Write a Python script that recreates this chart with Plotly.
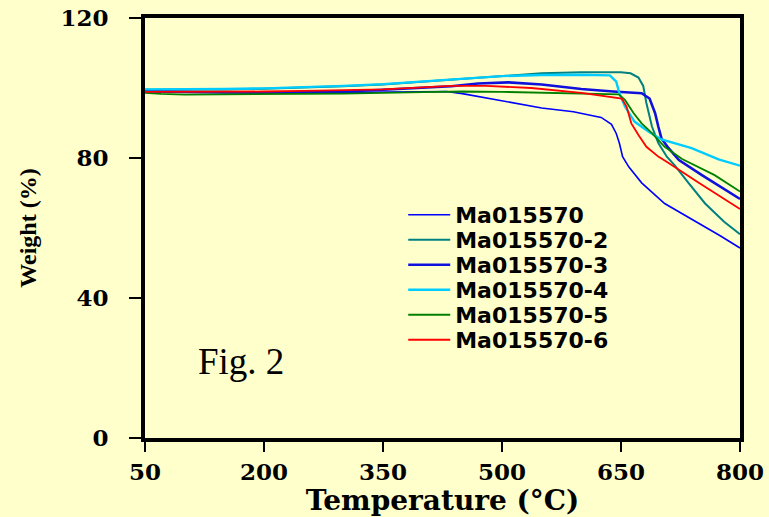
import plotly.graph_objects as go

# ---- data ----
t1 = [50, 100, 150, 200, 250, 300, 350, 400, 430, 450, 480, 510, 550, 590, 625, 638, 644, 648, 652, 660, 676, 705, 748, 775, 800]
w1 = [99.2, 98.9, 98.6, 98.5, 98.6, 98.7, 98.9, 99.0, 99.0, 98.4, 97.2, 95.8, 94.3, 93.2, 91.6, 89.6, 87.0, 84.2, 80.4, 77.4, 72.9, 67.0, 61.4, 57.8, 54.3]

t2 = [50, 100, 150, 200, 250, 300, 350, 400, 450, 500, 550, 600, 650, 662, 672, 678, 682, 689, 697, 708, 718, 735, 756, 780, 800]
w2 = [99.5, 99.5, 99.6, 99.8, 100.1, 100.5, 101.0, 101.8, 102.8, 103.6, 104.2, 104.5, 104.5, 104.2, 103.0, 100.6, 95.7, 89.0, 84.3, 80.3, 77.8, 72.9, 67.0, 61.8, 58.2]

t3 = [50, 100, 150, 200, 250, 300, 350, 400, 436, 470, 508, 550, 600, 640, 676, 686, 693, 697, 701, 710, 723, 752, 775, 800]
w3 = [99.0, 98.8, 98.7, 98.7, 98.8, 99.0, 99.5, 100.0, 100.5, 101.3, 101.6, 101.0, 99.7, 99.0, 98.5, 97.0, 92.8, 89.0, 85.6, 82.8, 79.4, 75.1, 71.8, 68.3]

t4 = [50, 100, 150, 200, 250, 300, 350, 400, 450, 500, 550, 600, 636, 644, 648, 655, 667, 685, 701, 739, 773, 800]
w4 = [99.6, 99.6, 99.7, 99.9, 100.2, 100.6, 101.1, 101.8, 102.7, 103.4, 103.7, 103.8, 103.6, 101.8, 98.5, 94.7, 90.4, 87.5, 85.3, 82.8, 79.6, 77.8]

t5 = [50, 70, 100, 200, 300, 400, 450, 500, 550, 600, 647, 655, 666, 676, 689, 705, 727, 768, 800]
w5 = [98.6, 98.3, 98.1, 98.2, 98.4, 98.8, 99.0, 98.9, 98.7, 98.4, 98.2, 96.6, 92.8, 89.9, 87.1, 83.2, 79.7, 75.1, 70.4]

t6 = [50, 100, 150, 200, 250, 300, 350, 400, 436, 480, 537, 600, 638, 651, 657, 663, 672, 682, 697, 710, 748, 775, 800]
w6 = [98.9, 98.9, 98.9, 99.0, 99.2, 99.3, 99.6, 100.2, 100.6, 100.6, 100.0, 98.6, 97.5, 97.0, 94.7, 89.9, 86.6, 83.2, 80.4, 78.6, 72.9, 69.0, 65.4]

names = ["Ma015570", "Ma015570-2", "Ma015570-3", "Ma015570-4", "Ma015570-5", "Ma015570-6"]
xs = [t1, t2, t3, t4, t5, t6]
ys = [w1, w2, w3, w4, w5, w6]
colors = ["#0000FF", "#008080", "#1010DD", "#00CCFF", "#008000", "#FF0000"]
widths = [1.6, 2, 2.6, 2.4, 1.8, 1.8]

x_ticks = [50, 200, 350, 500, 650, 800]
y_ticks = [0, 40, 80, 120]

bg = "#FFFFCC"
legend_font = dict(family="DejaVu Sans", size=22, color="black", weight="bold")

fig = go.Figure()
legend_layout = {}
for i, (x, y, n, c, w) in enumerate(zip(xs, ys, names, colors, widths)):
    key = "legend" if i == 0 else f"legend{i + 1}"
    fig.add_trace(go.Scatter(x=x, y=y, mode="lines", name=n, legend=key,
                             line=dict(color=c, width=w)))
    legend_layout[key] = dict(x=0.434, y=0.531 - i * 0.0595, xanchor="left", yanchor="middle",
                              bgcolor="rgba(0,0,0,0)", itemwidth=42, font=legend_font)

tickfont = dict(family="DejaVu Serif", size=23, color="black", weight="bold")

fig.update_layout(
    width=769, height=517,
    margin=dict(l=145, r=29, t=18, b=79),
    paper_bgcolor=bg, plot_bgcolor=bg,
    showlegend=True,
    xaxis=dict(range=[50, 800], tickvals=x_ticks, ticktext=[str(v) for v in x_ticks],
               showgrid=False, zeroline=False, showline=True, linecolor="black",
               linewidth=4, mirror=True, ticks="outside", ticklen=10, tickwidth=1.5,
               tickcolor="black", tickfont=tickfont, ticklabelstandoff=0, automargin=False,
               title=dict(text="Temperature (°C)", standoff=4,
                          font=dict(family="DejaVu Serif", size=28, color="black", weight="bold"))),
    yaxis=dict(range=[0, 120], tickvals=y_ticks, ticktext=[str(v) for v in y_ticks],
               showgrid=False, zeroline=False, showline=True, linecolor="black",
               linewidth=4, mirror=True, ticks="outside", ticklen=12, tickwidth=1.5,
               tickcolor="black", tickfont=tickfont, ticklabelstandoff=16, automargin=False,
               title=dict(text="Weight (%)", standoff=18,
                          font=dict(family="Liberation Serif", size=24, color="black", weight="bold"))),
    **legend_layout,
)

fig.add_annotation(x=0.161, y=0.183, xref="paper", yref="paper", text="Fig. 2",
                   xanchor="center", yanchor="middle",
                   showarrow=False, font=dict(family="Liberation Serif", size=37, color="black"))

fig.write_html("out.html")
